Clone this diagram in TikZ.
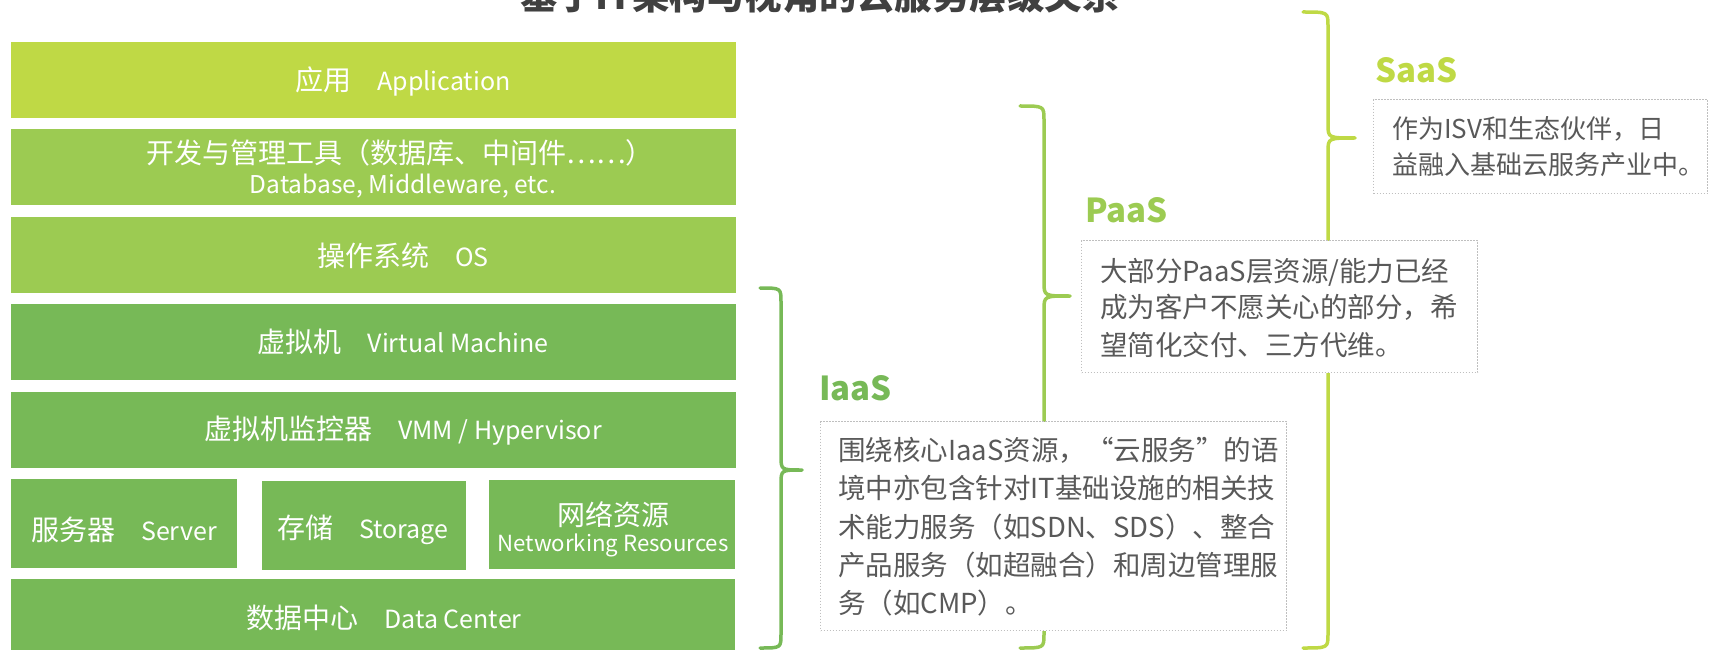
\documentclass[tikz,border=0pt]{standalone}
\usepackage{fontspec}
\setmainfont{Noto Sans CJK SC}
\definecolor{cSaaS}{HTML}{BFD945}
\definecolor{cPaaS}{HTML}{9CCB52}
\definecolor{cIaaS}{HTML}{77B957}
\definecolor{cText}{HTML}{595959}
\definecolor{cTitle}{HTML}{404040}
\definecolor{cBorder}{HTML}{BFBFBF}
\newcommand\mybrace[7]{%
  \draw[brace,#1] (#2,#5) .. controls (#3,#5) .. (#3,#5+14) -- (#3,#6-14)
    .. controls (#3,#6) .. (#4,#6) .. controls (#3,#6) .. (#3,#6+14)
    -- (#3,#7-14) .. controls (#3,#7) .. (#2,#7);}
\newcommand\lat[1]{{\fontsize{25}{27}\selectfont #1}}
\newcommand\gapx{\hspace{26pt}}
\begin{document}
\begin{tikzpicture}[x=1pt,y=-1pt,
  bar/.style={draw=none, inner sep=0pt, anchor=north west},
  lbl/.style={text=white, inner sep=0pt, font=\fontsize{28}{30}\selectfont},
  sublbl/.style={text=white, inner sep=0pt, font=\fontsize{24.5}{26}\selectfont},
  brace/.style={line width=3.5pt, line cap=round, line join=round},
  tbox/.style={draw=cBorder, fill=white, line width=1.4pt, dash pattern=on 1.4pt off 1.6pt, inner sep=0pt, anchor=north west},
  tline/.style={text=cText, inner sep=0pt, anchor=base west, font=\fontsize{27.5}{30}\selectfont},
  head/.style={inner sep=0pt, anchor=west, font=\fontsize{33}{35}\selectfont\bfseries}]
\useasboundingbox (0,0) rectangle (1709,650);

% title (clipped at top)
\node[anchor=base, inner sep=0pt, text=cTitle, font=\fontsize{37.5}{40}\selectfont\bfseries] (title) at (820,10) {基于IT架构与视角的云服务层级关系};

% layer bars
\node[bar, fill=cSaaS, minimum width=725pt, minimum height=76pt] (app) at (11,42) {};
\node[bar, fill=cPaaS, minimum width=725pt, minimum height=76pt] (dev) at (11,129) {};
\node[bar, fill=cPaaS, minimum width=725pt, minimum height=76pt] (os) at (11,217) {};
\node[bar, fill=cIaaS, minimum width=725pt, minimum height=76pt] (vm) at (11,304) {};
\node[bar, fill=cIaaS, minimum width=725pt, minimum height=76pt] (vmm) at (11,392) {};
\node[bar, fill=cIaaS, minimum width=226pt, minimum height=89pt] (server) at (11,479) {};
\node[bar, fill=cIaaS, minimum width=204pt, minimum height=89pt] (storage) at (262,481) {};
\node[bar, fill=cIaaS, minimum width=246pt, minimum height=89pt] (net) at (489,480) {};
\node[bar, fill=cIaaS, minimum width=724pt, minimum height=75pt] (dc) at (11,579) {};

\node[lbl] (appT) at (403,81) {应用\gapx\lat{Application}};
\node[lbl] (devT1) at (400,153) {开发与管理工具（数据库、中间件……）};
\node[sublbl] (devT2) at (403,186) {Database, Middleware, etc.};
\node[lbl] (osT) at (403,256) {操作系统\gapx\lat{OS}};
\node[lbl] (vmT) at (403,342) {虚拟机\gapx\lat{Virtual Machine}};
\node[lbl] (vmmT) at (403,431) {虚拟机监控器\gapx\lat{VMM / Hypervisor}};
\node[lbl] (serverT) at (124,530) {服务器\gapx\lat{Server}};
\node[lbl] (storageT) at (363,530) {存储\gapx\lat{Storage}};
\node[lbl] (netT1) at (613,515) {网络资源};
\node[sublbl, font=\fontsize{22.2}{24}\selectfont] (netT2) at (613,545) {Networking Resources};
\node[lbl] (dcT) at (384,618) {数据中心\gapx\lat{Data Center}};

% braces
\mybrace{cIaaS}{760}{781}{802}{288}{470}{648}
\mybrace{cPaaS}{1020}{1044}{1070}{106}{296}{648}
\mybrace{cSaaS}{1303}{1328}{1355}{12}{138}{648}

% IaaS
\node[head, text=cIaaS] (iaas) at (819,388) {IaaS};
\node[tbox, minimum width=466pt, minimum height=209pt] (iaasBox) at (820,421) {};
\node[tline] (i1) at (838,460) {围绕核心IaaS资源，“云服务”的语};
\node[tline] (i2) at (838,498) {境中亦包含针对IT基础设施的相关技};
\node[tline] (i3) at (838,537) {术能力服务（如SDN、SDS）、整合};
\node[tline] (i4) at (838,575) {产品服务（如超融合）和周边管理服};
\node[tline] (i5) at (838,613) {务（如CMP）。};

% PaaS
\node[head, text=cPaaS] (paas) at (1085,210) {PaaS};
\node[tbox, minimum width=396pt, minimum height=132pt] (paasBox) at (1081,240) {};
\node[tline] (p1) at (1100,281) {大部分PaaS层资源/能力已经};
\node[tline] (p2) at (1100,317) {成为客户不愿关心的部分，希};
\node[tline] (p3) at (1100,355) {望简化交付、三方代维。};

% SaaS
\node[head, text=cSaaS] (saas) at (1375,70) {SaaS};
\node[tbox, minimum width=334pt, minimum height=94pt] (saasBox) at (1373,99) {};
\node[tline, font=\fontsize{26}{28}\selectfont] (s1) at (1392,139) {作为ISV和生态伙伴，日};
\node[tline, font=\fontsize{26}{28}\selectfont] (s2) at (1392,175) {益融入基础云服务产业中。};
\end{tikzpicture}
\end{document}
